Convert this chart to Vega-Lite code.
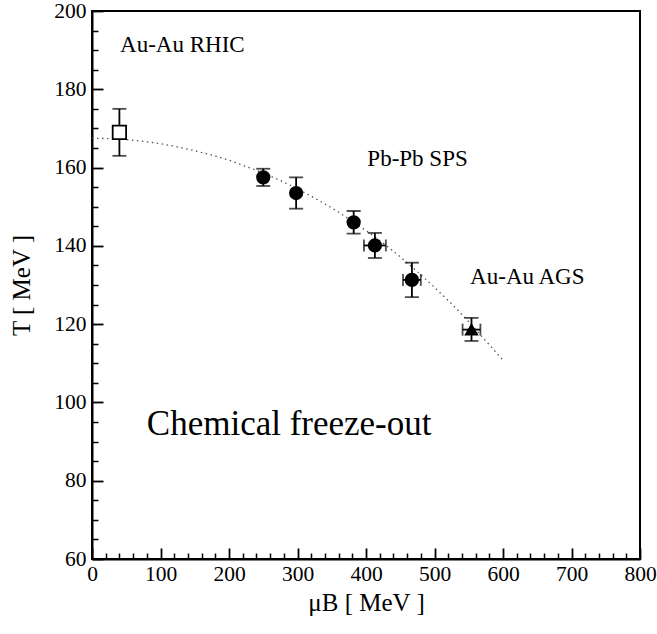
{
  "$schema": "https://vega.github.io/schema/vega-lite/v6.json",
  "autosize": "none",
  "width": 548,
  "height": 548,
  "padding": {"left": 92, "top": 11, "right": 17, "bottom": 75},
  "background": "white",
  "config": {
    "view": {"stroke": "black", "strokeWidth": 2},
    "font": "Liberation Serif",
    "style": {"guide-label": {"font": "Liberation Serif", "fill": "black"}, "guide-title": {"font": "Liberation Serif", "fill": "black", "fontWeight": "normal"}},
    "axis": {"grid": false, "labelFont": "Liberation Serif", "titleFont": "Liberation Serif", "labelColor": "black", "titleColor": "black", "tickColor": "black", "domainColor": "black", "labelFontWeight": "normal", "titleFontWeight": "normal"}
  },
  "datasets": {
    "curve": [
      {"mu": 0, "T": 167.5}, {"mu": 25, "T": 167.4}, {"mu": 50, "T": 167.15}, {"mu": 75, "T": 166.7},
      {"mu": 100, "T": 166.1}, {"mu": 125, "T": 165.3}, {"mu": 150, "T": 164.3}, {"mu": 175, "T": 163.2},
      {"mu": 200, "T": 161.9}, {"mu": 225, "T": 160.3}, {"mu": 250, "T": 158.6}, {"mu": 275, "T": 156.7},
      {"mu": 300, "T": 154.6}, {"mu": 325, "T": 152.2}, {"mu": 350, "T": 149.7}, {"mu": 375, "T": 146.9},
      {"mu": 400, "T": 143.9}, {"mu": 425, "T": 140.7}, {"mu": 450, "T": 137.2}, {"mu": 475, "T": 133.4},
      {"mu": 500, "T": 129.4}, {"mu": 525, "T": 125.2}, {"mu": 550, "T": 120.6}, {"mu": 575, "T": 115.7},
      {"mu": 600, "T": 110.8}
    ],
    "points": [
      {"system": "RHIC", "mu": 40, "T": 169, "Tlo": 163, "Thi": 175},
      {"system": "SPS", "mu": 250, "T": 157.5, "Tlo": 155.3, "Thi": 159.7},
      {"system": "SPS", "mu": 298, "T": 153.5, "Tlo": 149.5, "Thi": 157.5},
      {"system": "SPS", "mu": 382, "T": 146, "Tlo": 143.1, "Thi": 148.9},
      {"system": "SPS", "mu": 413, "T": 140.1, "Tlo": 136.9, "Thi": 143.3, "mulo": 397, "muhi": 429},
      {"system": "SPS", "mu": 467, "T": 131.3, "Tlo": 126.9, "Thi": 135.7, "mulo": 454, "muhi": 480},
      {"system": "AGS", "mu": 554, "T": 118.6, "Tlo": 115.7, "Thi": 121.6, "mulo": 541, "muhi": 567}
    ],
    "labels": [
      {"text": "Au-Au RHIC", "mu": 41, "T": 189.5, "size": 23},
      {"text": "Pb-Pb SPS", "mu": 402, "T": 160.3, "size": 23},
      {"text": "Au-Au AGS", "mu": 552, "T": 130.2, "size": 23},
      {"text": "Chemical freeze-out", "mu": 80, "T": 91.6, "size": 35}
    ]
  },
  "resolve": {"scale": {"x": "shared", "y": "shared"}, "axis": {"x": "independent", "y": "independent"}},
  "layer": [
    {
      "data": {"name": "curve"},
      "mark": {"type": "line", "color": "#555555", "strokeWidth": 1.3, "strokeDash": [1.5, 3.5]},
      "encoding": {
        "x": {"field": "mu", "type": "quantitative", "scale": {"domain": [0, 800], "nice": false, "zero": false},
          "axis": {"orient": "bottom", "values": [20,40,60,80,120,140,160,180,220,240,260,280,320,340,360,380,420,440,460,480,520,540,560,580,620,640,660,680,720,740,760,780], "labels": false, "domain": false, "tickSize": -6, "tickWidth": 1.5, "tickColor": "black", "title": null}},
        "y": {"field": "T", "type": "quantitative", "scale": {"domain": [60, 200], "nice": false, "zero": false},
          "axis": {"orient": "left", "values": [65,70,75,85,90,95,105,110,115,125,130,135,145,150,155,165,170,175,185,190,195], "labels": false, "domain": false, "tickSize": -6, "tickWidth": 1.5, "tickColor": "black", "title": null}}
      }
    },
    {
      "data": {"name": "points"},
      "mark": {"type": "rule", "color": "black", "strokeWidth": 1.8},
      "encoding": {
        "x": {"field": "mu", "type": "quantitative", "axis": null},
        "y": {"field": "Tlo", "type": "quantitative", "axis": null},
        "y2": {"field": "Thi"}
      }
    },
    {
      "data": {"name": "points"},
      "mark": {"type": "tick", "color": "black", "orient": "horizontal", "size": 14, "thickness": 1.8},
      "encoding": {
        "x": {"field": "mu", "type": "quantitative", "axis": null},
        "y": {"field": "Thi", "type": "quantitative", "axis": null}
      }
    },
    {
      "data": {"name": "points"},
      "mark": {"type": "tick", "color": "black", "orient": "horizontal", "size": 14, "thickness": 1.8},
      "encoding": {
        "x": {"field": "mu", "type": "quantitative", "axis": null},
        "y": {"field": "Tlo", "type": "quantitative", "axis": null}
      }
    },
    {
      "data": {"name": "points"},
      "transform": [{"filter": "isValid(datum.mulo)"}],
      "mark": {"type": "rule", "color": "black", "strokeWidth": 1.8},
      "encoding": {
        "x": {"field": "mulo", "type": "quantitative", "axis": null},
        "x2": {"field": "muhi"},
        "y": {"field": "T", "type": "quantitative", "axis": null}
      }
    },
    {
      "data": {"name": "points"},
      "transform": [{"filter": "isValid(datum.mulo)"}],
      "mark": {"type": "tick", "color": "black", "orient": "vertical", "size": 12, "thickness": 1.8},
      "encoding": {
        "x": {"field": "mulo", "type": "quantitative", "axis": null},
        "y": {"field": "T", "type": "quantitative", "axis": null}
      }
    },
    {
      "data": {"name": "points"},
      "transform": [{"filter": "isValid(datum.mulo)"}],
      "mark": {"type": "tick", "color": "black", "orient": "vertical", "size": 12, "thickness": 1.8},
      "encoding": {
        "x": {"field": "muhi", "type": "quantitative", "axis": null},
        "y": {"field": "T", "type": "quantitative", "axis": null}
      }
    },
    {
      "data": {"name": "points"},
      "mark": {"type": "point", "filled": false, "opacity": 1, "strokeWidth": 1.8, "stroke": "black"},
      "encoding": {
        "x": {"field": "mu", "type": "quantitative",
          "axis": {"orient": "bottom", "values": [0,100,200,300,400,500,600,700,800], "tickSize": -11, "tickWidth": 1.8, "tickColor": "black", "domain": true, "domainWidth": 2, "domainColor": "black", "labelFont": "Liberation Serif", "labelColor": "black", "labelFontSize": 21.5, "labelPadding": 15, "labelFlush": false, "labelOverlap": false, "labelBound": false, "title": "μB [ MeV ]", "titleFont": "Liberation Serif", "titleColor": "black", "titleFontWeight": "normal", "titleFontSize": 25, "titlePadding": 6}},
        "y": {"field": "T", "type": "quantitative",
          "axis": {"orient": "left", "values": [60,80,100,120,140,160,180,200], "tickSize": -11, "tickWidth": 1.8, "tickColor": "black", "domain": true, "domainWidth": 2, "domainColor": "black", "labelFont": "Liberation Serif", "labelColor": "black", "labelFontSize": 21.5, "labelPadding": 17, "labelFlush": false, "labelOverlap": false, "labelBound": false, "title": "T [ MeV ]", "titleFont": "Liberation Serif", "titleColor": "black", "titleFontWeight": "normal", "titleFontSize": 25, "titlePadding": 19}},
        "shape": {"field": "system", "type": "nominal", "scale": {"domain": ["RHIC", "SPS", "AGS"], "range": ["square", "circle", "triangle-up"]}, "legend": null},
        "fill": {"field": "system", "type": "nominal", "scale": {"domain": ["RHIC", "SPS", "AGS"], "range": ["white", "black", "black"]}, "legend": null},
        "size": {"field": "system", "type": "nominal", "scale": {"domain": ["RHIC", "SPS", "AGS"], "range": [180, 130, 150]}, "legend": null}
      }
    },
    {
      "data": {"name": "labels"},
      "mark": {"type": "text", "align": "left", "baseline": "alphabetic", "font": "Liberation Serif", "color": "black"},
      "encoding": {
        "x": {"field": "mu", "type": "quantitative", "axis": null},
        "y": {"field": "T", "type": "quantitative", "axis": null},
        "text": {"field": "text"},
        "size": {"field": "size", "type": "quantitative", "scale": null}
      }
    }
  ]
}
